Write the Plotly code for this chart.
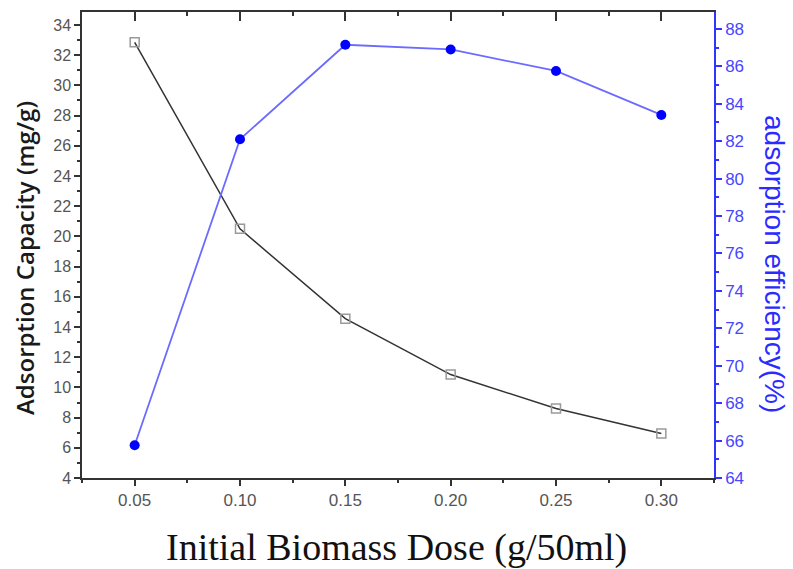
import plotly.graph_objects as go

dose = [0.05, 0.10, 0.15, 0.20, 0.25, 0.30]
capacity = [32.85, 20.5, 14.55, 10.85, 8.6, 6.95]
efficiency = [65.75, 82.1, 87.15, 86.9, 85.75, 83.4]
x_ticks = [0.05, 0.10, 0.15, 0.20, 0.25, 0.30]
x_tick_text = ["0.05", "0.10", "0.15", "0.20", "0.25", "0.30"]

fig = go.Figure()
fig.add_trace(go.Scatter(
    x=dose, y=capacity, mode="lines+markers",
    line=dict(color="#333333", width=1.5),
    marker=dict(symbol="square-open", size=9, color="#9a9a9a", line=dict(width=1.5, color="#9a9a9a")),
    showlegend=False))
fig.add_trace(go.Scatter(
    x=dose, y=efficiency, mode="lines+markers", yaxis="y2",
    line=dict(color="#6b6bff", width=1.8),
    marker=dict(symbol="circle", size=10, color="#0000ff"),
    showlegend=False))
# helper trace so the top mirror axis is drawn
fig.add_trace(go.Scatter(x=[0.1], y=[10], xaxis="x2", mode="markers",
                         marker=dict(opacity=0), hoverinfo="skip", showlegend=False))

tickfont_gray = dict(family="Arial, Liberation Sans", size=16, color="#555555")

fig.update_layout(
    width=793, height=569,
    margin=dict(l=82, r=79, t=12, b=91),
    plot_bgcolor="white", paper_bgcolor="white",
    xaxis=dict(range=[0.025, 0.325], tickvals=x_ticks, ticktext=x_tick_text,
               ticks="outside", ticklen=6, tickwidth=1.5, tickcolor="#333333",
               minor=dict(dtick=0.025, tick0=0.025, ticks="outside", ticklen=3, tickwidth=1.5, tickcolor="#333333"),
               showline=True, linecolor="#333333", linewidth=1.5,
               showgrid=False, zeroline=False,
               tickfont=dict(family="Arial, Liberation Sans", size=17, color="#555555")),
    xaxis2=dict(range=[0.025, 0.325], overlaying="x", side="top", tickvals=x_ticks,
                showticklabels=False, ticks="inside", ticklen=9, tickwidth=1.5, tickcolor="#333333",
                minor=dict(dtick=0.025, tick0=0.025, ticks="inside", ticklen=4, tickwidth=1.5, tickcolor="#333333"),
                showline=True, linecolor="#333333", linewidth=1.5,
                showgrid=False, zeroline=False),
    yaxis=dict(range=[4, 34.86], dtick=2, tick0=4,
               ticks="outside", ticklen=6, tickwidth=1.5, tickcolor="#333333",
               minor=dict(dtick=1, ticks="outside", ticklen=3, tickwidth=1.5, tickcolor="#333333"),
               showline=True, linecolor="#333333", linewidth=1.5,
               showgrid=False, zeroline=False, tickfont=tickfont_gray),
    yaxis2=dict(range=[64, 88.9], dtick=2, tick0=64, overlaying="y", side="right",
                ticks="outside", ticklen=6, tickwidth=1.5, tickcolor="#3333ff",
                minor=dict(dtick=1, ticks="outside", ticklen=3, tickwidth=1.5, tickcolor="#3333ff"),
                showline=True, linecolor="#3333ff", linewidth=1.5,
                showgrid=False, zeroline=False,
                tickfont=dict(family="Arial, Liberation Sans", size=17, color="#4646ff")),
)

fig.add_annotation(text="Adsorption Capacity (mg/g)", textangle=-90,
                   xref="paper", yref="paper", x=-82/632 + 24/632, y=1 - (258 - 12) / 466,
                   xanchor="center", yanchor="middle", showarrow=False,
                   font=dict(family="Open Sans", size=24, color="#1a1a1a", weight=600))
fig.add_annotation(text="adsorption efficiency(%)", textangle=90,
                   xref="paper", yref="paper", x=(775 - 82) / 632, y=1 - (264 - 12) / 466,
                   xanchor="center", yanchor="middle", showarrow=False,
                   font=dict(family="Arial, Liberation Sans", size=28, color="#2b2bff"))
fig.add_annotation(text="Initial Biomass Dose (g/50ml)",
                   xref="paper", yref="paper", x=(396 - 82) / 632, y=1 - (547 - 12) / 466,
                   xanchor="center", yanchor="middle", showarrow=False,
                   font=dict(family="Liberation Serif, Times New Roman", size=38, color="#111111"))

fig.write_html("out.html")
